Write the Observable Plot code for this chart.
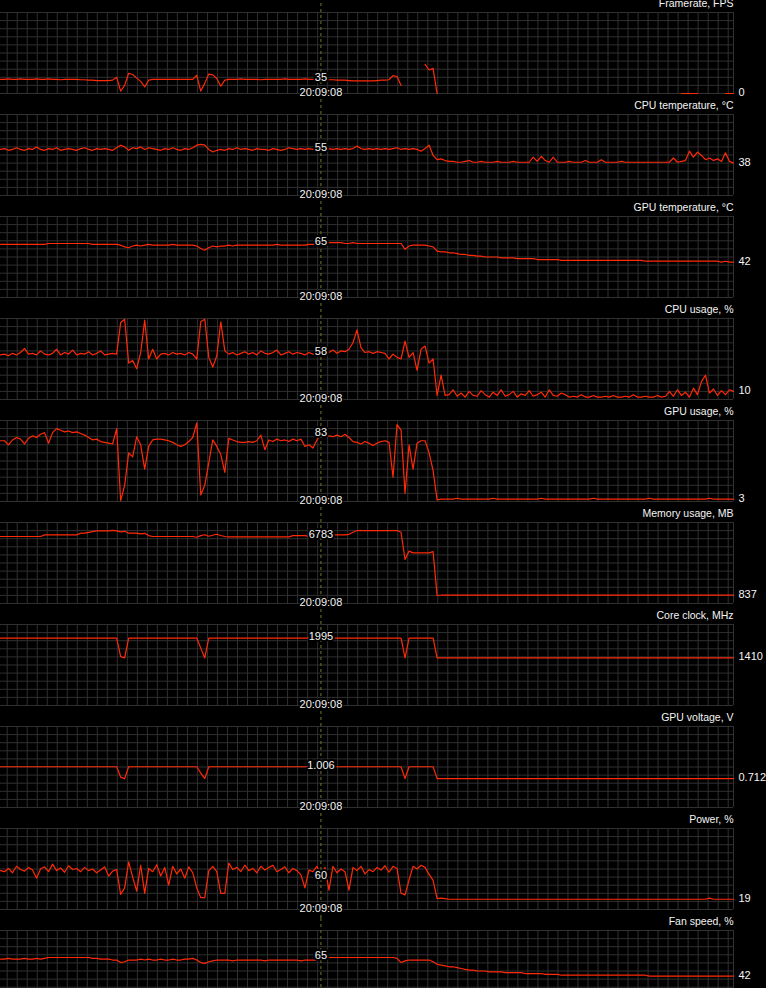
<!DOCTYPE html>
<html><head><meta charset="utf-8">
<script src="https://cdn.jsdelivr.net/npm/d3@7"></script>
<script src="https://cdn.jsdelivr.net/npm/@observablehq/plot@0.6"></script>
<style>
html,body{margin:0;padding:0;background:#000;}
#chart{width:766px;height:988px;overflow:hidden;background:#000;position:relative;}
#chart svg{display:block;overflow:visible;}
</style></head><body><div id="chart"></div>
<script>
// ---- data (one sample per tick, 184 samples) ----
const titles = ["Framerate, FPS","CPU temperature, °C","GPU temperature, °C","CPU usage, %","GPU usage, %","Memory usage, MB","Core clock, MHz","GPU voltage, V","Power, %","Fan speed, %"];
const cursorLabels = ["35","55","65","58","83","6783","1995","1.006","60","65"];
const lastLabels = ["0","38","42","10","3","837","1410","0.712","19","42"];
const cursorTime = "20:09:08";

const fps = [35,35,36,35,35,36,35,35,35,36, 35,35,36,35,35,34,35,35,35,35, 34,34,33,33,32,32,32,32,33,
 40,6,20,50,47,38,30,16,33,35, 35,35,35,35,35,35,35,35,35, 35,45,6,25,48,46,37,18,33,35,
 35,35,36,35,35,35,35,34,35,35,35,35,35,36,35,35,35,35,36,35,35, 35,35,
 35,34,34,33,33,33,32,31,31,31,31,31,31,32,33,33,34, 44,42,20,
 null,null,null,null,null, 72,58,62,0,
 null,null,null,null,null,null,null,null,null,null, null,null,null,null,null,null,null,null,null,null,
 null,null,null,null,null,null,null,null,null,null, null,null,null,null,null,null,null,null,null,null,
 null,null,null,null,null,null,null,null,null,null, null,null,null,null,null,null,null,null,null,null,
 0,0,0,0,0, null,null,null,null,null,null, 0,0,0];

const cpuTemp = [54,55,53,54,56,54,53,55,54,57,54,53,55,54,56,53,54,55,54,53,55,56,54,53,55,54,55,54,53,56,
 59,57,53,56,55,57,54,56,55,54,53,55,54,56,54,53,55,54,56,
 59,60,59,54,51,53,54,53,
 55,54,56,54,55,54,53,55,54,54,53,55,54,53,54,56,55,54,55,54,55,54,54,55,54,55,54,55,54,55,54,55,
 58,55,54,55,54,55,54,55,54,55,56,54,55,54,55,54,
 52,55,59,47,42,43,41,40,40,
 39,39,40,41,39,39,40,39,39,39, 40,39,39,39,40,39,39,39,39,45, 40,46,41,39,45,39,39,39,40,39,
 39,39,41,39,39,39,42,39,39,39, 39,40,39,39,39,39,39,39,39,39, 39,39,39,39,44,39,40,41,52,45,
 51,47,42,44,41,43,40,50,40,38];

const gpuTemp = [63,63,63,63,63,63,63,63,63,63,63,63,64,64,64,64,64,64,64,64,64,64,64,63,63,63,63,63,63,63,
 62,60,59,61,62,61,62,63,62,62,62,62,62,63,62,62,62,62,62,
 61,58,56,59,61,60,61,61,62,61,
 62,62,62,62,62,62,62,62,62,62,63,62,62,62,62,62,62,62,63,63,63,
 64,65,65,65,65,65,64,64,65,64,64,64,64,64,64,64,64,64,64,64,64,
 57,61,62,62,62,62,61,60,55,
 54,54,53,53,52,51,51,50,50,49, 49,48,48,48,48,47,47,47,47,46, 46,46,46,46,45,45,45,45,45,45,
 44,44,44,44,44,44,44,44,44,44,44,44,44,44,44,44,44,44,44,44,44,
 43,43,43,43,43,43,43,43,43,43,43,43,43,43,43,43,43,43,
 43,42,43,42,42];

const cpuUse = [55,56,54,57,55,58,63,56,57,55,60,56,55,57,62,55,58,56,61,55,57,56,59,55,57,60,55,56,57,
 56,95,99,45,48,38,58,98,50,62,50,56,
 57,55,58,56,57,55,58,56,
 50,96,99,52,40,54,96,60,56,
 58,55,57,59,56,58,55,60,57,56,58,61,55,57,59,56,58,57,55,58,56,57,58,
 60,58,61,57,60,59,62,
 70,86,64,58,59,57,59,58,57,50,56,52,50,72,52,58,36,62,66,45,50,5,30,5,
 6,12,4,8,3,10,5,4,11,6,3,9,5,12,4,6,10,3,7,5,11,4,6,9,3,12,5,4,8,6,3,
 4,3,6,3,3,5,3,3,4,3,5,3,3,4,3,6,3,3,4,3,3,5,3,4,
 10,4,12,5,9,3,14,6,22,30,8,13,5,11,6,12,10];

const gpuUse = [75,75,70,76,79,77,71,78,81,79,83,85,72,85,90,88,86,87,85,86,84,82,79,76,77,74,73,72,71,90,
 1,20,60,55,80,70,40,68,76,77,77,76,75,73,70,68,70,74,79,
 97,8,20,48,76,68,58,36,78,
 76,74,73,73,74,73,75,82,64,76,74,77,75,76,74,77,75,77,68,70,66,76,
 83,82,81,80,82,80,83,79,74,73,71,74,72,69,72,74,75,73,30,95,88,10,70,40,72,75,75,60,38,2,
 3,3,3,3,4,3,3,3,3,3, 3,3,3,4,3,3,3,3,3,3, 3,3,3,3,3,4,3,3,3,3, 3,3,3,3,3,3,3,3,4,3,
 3,3,3,3,3,3,3,3,3,3, 3,3,4,3,3,3,3,3,3,3, 3,3,3,3,3,3,3,4,3,3, 3,3,3,3];

const memory = [6775,6775,6775,6775,6775,6775,6775,6775,6775,6775,6775,
 6940,6940,6945,6940,6945,6940,6945,6940,6945,
 7110,7110,7190,7270,7350,7350,7350,7350,7390,7350,
 7250,7300,7110,7110,7110,7050,7100,6870,
 6775,6775,6775,6775,6775,6775,6775,6775,6775,6775,6775,
 6700,6870,6950,6800,6900,7000,6880,
 6775,6740,6740,6740,6740,6740,6740,6740,6740,6740,6740,6740,6740,6740,6740,6740,6740,
 6860,6860,6860,6860,6780,6783,6783,6783,
 6783,6860,6945,6945,6945,6945,7000,7200,
 7380,7380,7380,7380,7380,7380,7380,7380,7380,7380,7380,
 7200,4450,5300,5120,5120,5120,5120,5120,5250,810,
 837,837,837,837,837,837,837,837,837,837, 837,837,837,837,837,837,837,837,837,837,
 837,837,837,837,837,837,837,837,860,837, 837,837,837,837,837,837,837,837,837,837,
 837,837,837,837,837,837,837,837,837,837, 837,837,837,837,837,837,860,837,837,837,
 837,837,837,837,837,837,837,837,837,837, 837,837,837,837];

const coreClock = [1995,1995,1995,1995,1995,1995,1995,1995,1995,1995,1995,1995,1995,1995,1995,
 1995,1995,1995,1995,1995,1995,1995,1995,1995,1995,1995,1995,1995,1995,1995,
 1450,1410,
 1995,1995,1995,1995,1995,1995,1995,1995,1995,1995,1995,1995,1995,1995,1995,1995,1995,1995,
 1700,1410,
 1995,1995,1995,1995,1995,1995,1995,1995,1995,1995,1995,1995,1995,1995,1995,1995,1995,1995,1995,1995,
 1995,1995,1995,1995,1995,1995,1995,1995,1995,1995,1995,1995,1995,1995,1995,1995,1995,1995,1995,1995,
 1995,1995,1995,1995,1995,1995,1995,1995,1995,
 1410,
 1995,1995,1995,1995,1995,1995,1995,
 1410,1410,1410,1410,1410,1410,1410,1410,1410,1410,1410,1410,1410,1410,1410,
 1410,1410,1410,1410,1410,1410,1410,1410,1410,1410,1410,1410,1410,1410,1410,
 1410,1410,1410,1410,1410,1410,1410,1410,1410,1410,1410,1410,1410,1410,1410,
 1410,1410,1410,1410,1410,1410,1410,1410,1410,1410,1410,1410,1410,1410,1410,
 1410,1410,1410,1410,1410,1410,1410,1410,1410,1410,1410,1410,1410,1410,1410];

const voltage = [1.006,1.006,1.006,1.006,1.006,1.006,1.006,1.006,1.006,1.006,1.006,1.006,1.006,1.006,1.006,
 1.006,1.006,1.006,1.006,1.006,1.006,1.006,1.006,1.006,1.006,1.006,1.006,1.006,1.006,1.006,
 0.75,0.712,
 1.006,1.006,1.006,1.006,1.006,1.006,1.006,1.006,1.006,1.006,1.006,1.006,1.006,1.006,1.006,1.006,1.006,1.006,
 0.85,0.712,
 1.006,1.006,1.006,1.006,1.006,1.006,1.006,1.006,1.006,1.006,1.006,1.006,1.006,1.006,1.006,1.006,1.006,1.006,1.006,1.006,
 1.006,1.006,1.006,1.006,1.006,1.006,1.006,1.006,1.006,1.006,1.006,1.006,1.006,1.006,1.006,1.006,1.006,1.006,1.006,1.006,
 1.006,1.006,1.006,1.006,1.006,1.006,1.006,1.006,1.006,
 0.712,
 1.006,1.006,1.006,1.006,1.006,1.006,1.006,
 0.712,0.712,0.712,0.712,0.712,0.712,0.712,0.712,0.712,0.712,0.712,0.712,0.712,0.712,0.712,
 0.712,0.712,0.712,0.712,0.712,0.712,0.712,0.712,0.712,0.712,0.712,0.712,0.712,0.712,0.712,
 0.712,0.712,0.712,0.712,0.712,0.712,0.712,0.712,0.712,0.712,0.712,0.712,0.712,0.712,0.712,
 0.712,0.712,0.712,0.712,0.712,0.712,0.712,0.712,0.712,0.712,0.712,0.712,0.712,0.712,0.712,
 0.712,0.712,0.712,0.712,0.712,0.712,0.712,0.712,0.712,0.712,0.712,0.712,0.712,0.712,0.712];

const power = [72,70,76,68,80,74,71,78,73,58,75,79,70,84,72,77,69,81,74,76,70,78,72,75,68,73,79,62,71,
 74,28,40,88,60,34,82,30,76,70,83,62,78,45,80,66,75,58,79,68,40,22,22,72,80,70,30,30,86,
 74,78,70,82,72,76,68,80,73,78, 82,70,74,79,68,76,72,64,40,73, 70,80,62,78,36,80,68,75,70,36,
 78,72,80,66,74,70,78,73,81,69, 80,76,30,27,55,80,75,82,78,65, 54,20,21,20,
 19,19,19,19,19,19,19,19,19,19, 19,19,19,19,19,19,19,19,19,19, 19,19,19,19,19,19,19,19,19,19,
 19,19,19,19,19,19,19,19,19,19, 19,19,19,19,19,19,19,19,19,19, 19,19,19,19,19,19,19,19,19,19,
 19,19,19,19,19,21,19,19,19,19, 19,19];

const fan = [62,62,63,62,62,62,63,62,62,63,62,63,
 64,64,64,64,64,64,64,64,64,64,64,
 63,63,62,62,62,61,
 61,58,59,61,61,61,62,61,62,61,61,62,61,61,62,61,61,62,62,
 63,61,58,57,59,60,
 61,61,61,61,60,61,61,61,61,61,61,61,60,61,61,61,61,61,61,61,61,60,61,61,61,61,
 62,64,64,64,64,64,64,64,64,64,64,64,64,64,64,64,64,64,64,
 63,58,60,61,61,61,61,61,61,59,56,
 55,54,53,53,52,51,50,49,49,48, 48,48,47,47,47,47,46,46,46,46, 46,45,45,45,45,45,44,44,44,44,
 43,43,43,43,43,43,43,43,43,43,43,43,43,43,43,43,43,43,43,43,43,43,
 42,42,42,42,42,42,42,42,42,42,42,42,42,42,42,42,42,42,42,42,42,42];

// ---- rendering ----
const series = [fps, cpuTemp, gpuTemp, cpuUse, gpuUse, memory, coreClock, voltage, power, fan];
const domains = [[0,200],[0,95],[0,96],[0,100],[0,100],[0,8192],[0,2400],[0,2],[0,150],[0,96]];
const N = 184;
const cursorIndex = 80;
const RED = "#ff2a08";
const GRID = "#303030";
const FONT = "'Liberation Sans', Arial, sans-serif";

const root = document.getElementById("chart");
series.forEach((vals, k) => {
  const [lo, hi] = domains[k];
  const perPx = (hi - lo) / 81;
  const data = vals.map((v, i) => ({i, v}));
  const hLines = d3.range(11).map(j => lo + j * (hi - lo) / 10);
  const vLines = d3.range(1.67, N - 1, 2.5).concat([N - 1]);
  const isLast = k === series.length - 1;
  const marks = [
    Plot.ruleY(hLines, {stroke: GRID, strokeWidth: 1}),
    Plot.ruleX(vLines, {stroke: GRID, strokeWidth: 1}),
    Plot.ruleX([cursorIndex], {y1: lo - (isLast ? 0 : 9 * perPx), y2: hi + 12 * perPx, stroke: "#77772e", strokeDasharray: "3,3"}),
    Plot.line(data, {x: "i", y: "v", stroke: RED, strokeWidth: 1.2}),
    Plot.text([cursorLabels[k]], {x: cursorIndex, y: d => +d, text: d => d, fill: "#f4f4f4", stroke: "#000", strokeWidth: 4, dy: -1.5, fontSize: 11}),
    Plot.text([lastLabels[k]], {x: N - 1, y: d => +d, text: d => d, textAnchor: "start", dx: 5, dy: -1, fill: "#f4f4f4", fontSize: 11}),
    Plot.text([titles[k]], {frameAnchor: "top-right", lineAnchor: "middle", text: d => d, dy: -9, fill: "#f4f4f4", fontSize: 10.5})
  ];
  if (!isLast) marks.push(Plot.text([cursorTime], {x: cursorIndex, y: lo, text: d => d, fill: "#f4f4f4", stroke: "#000", strokeWidth: 3, dy: -1, fontSize: 11}));
  const svg = Plot.plot({
    width: 766, height: isLast ? 70 : 102,
    marginTop: 12, marginBottom: isLast ? 0 : 9, marginLeft: 0, marginRight: 33,
    style: {background: "transparent", overflow: "visible", fontFamily: FONT, fontSize: "11px", color: "#f0f0f0"},
    x: {domain: [0, N - 1], axis: null},
    y: {domain: [lo, hi], axis: null, range: [93, 12]},
    marks
  });
  root.appendChild(svg);
});
</script></body></html>
